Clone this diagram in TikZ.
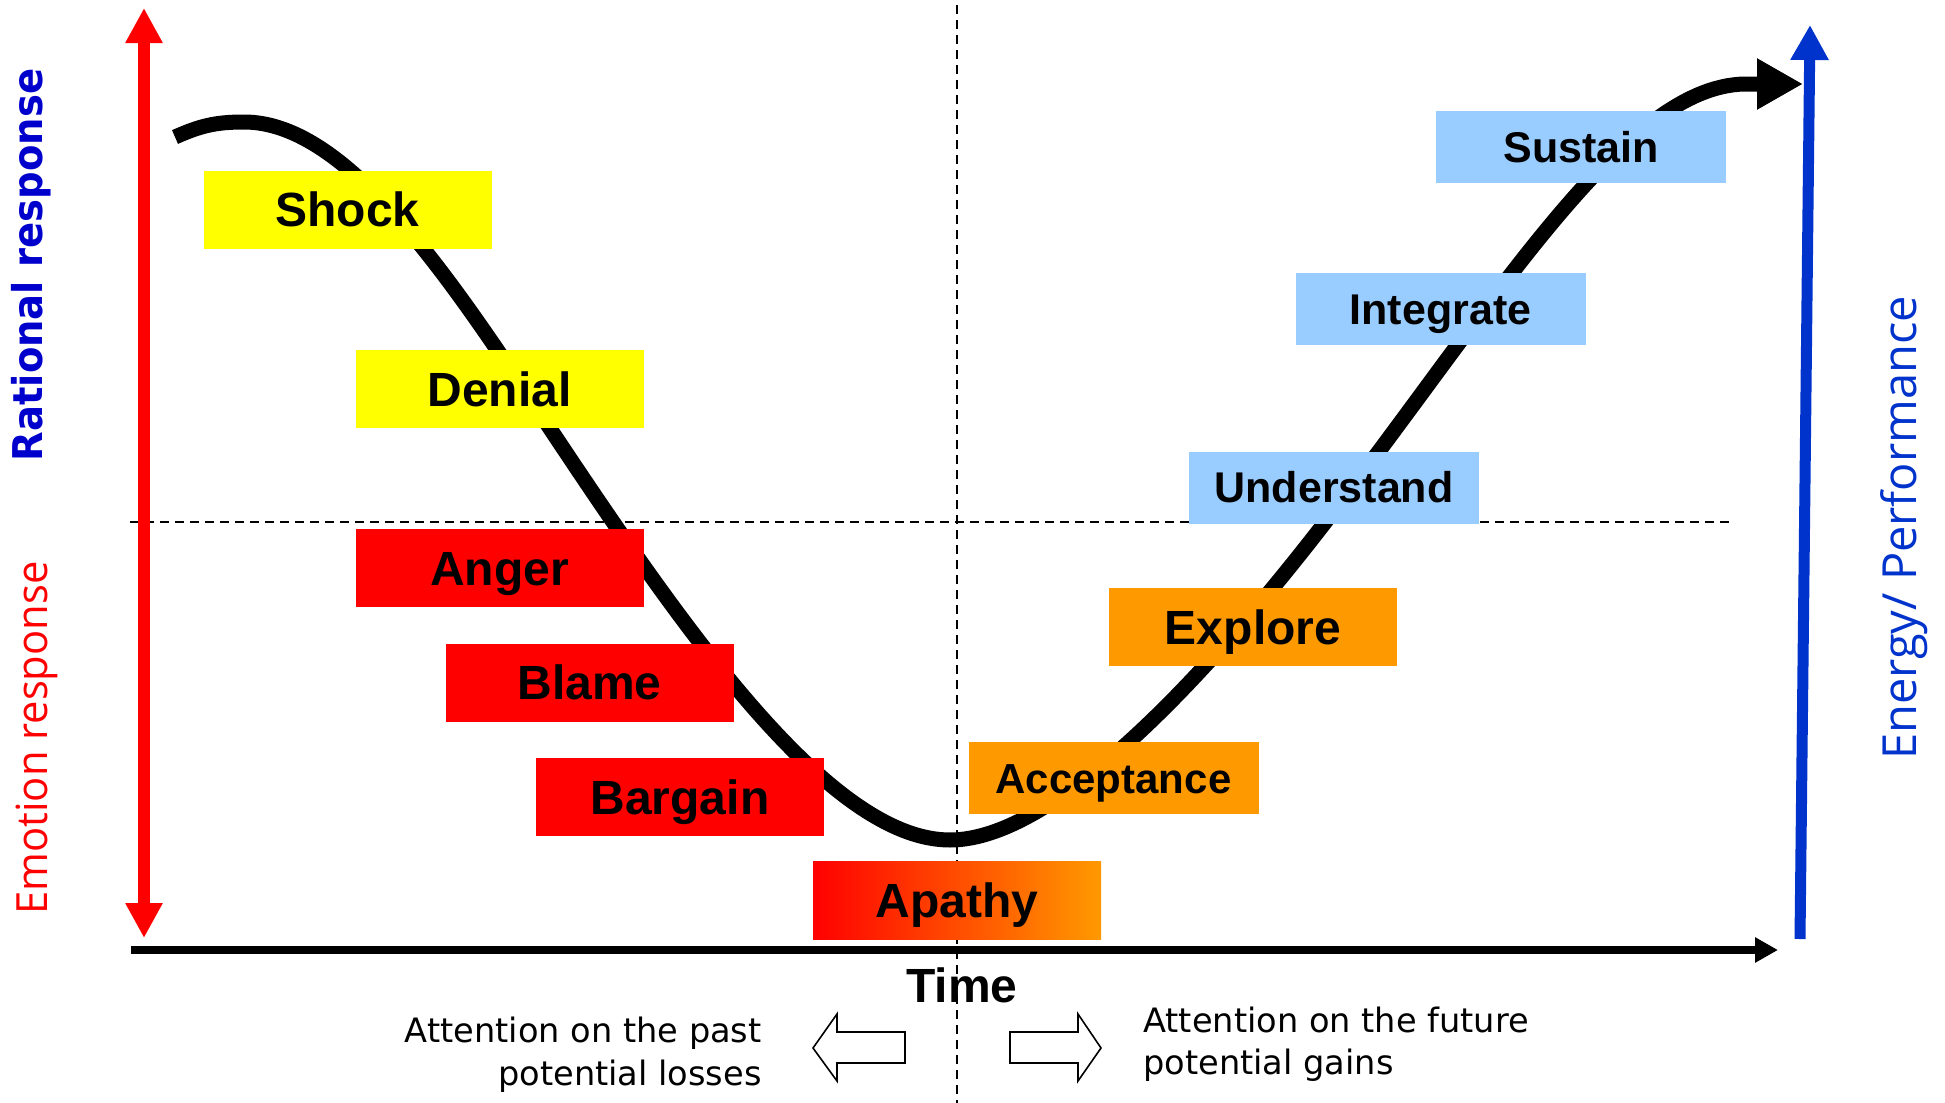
\documentclass[tikz,border=0pt]{standalone}
\usepackage{fontspec}
\usepackage{graphicx}
\usetikzlibrary{arrows.meta}
\newfontfamily\libsans{Liberation Sans}
\newfontfamily\dejavu{DejaVu Sans}
\newfontfamily\opensans{Open Sans}
\definecolor{cyellow}{HTML}{FFFF00}
\definecolor{cred}{HTML}{FF0000}
\definecolor{corange}{HTML}{FF9900}
\definecolor{cblue}{HTML}{99CCFF}
\definecolor{ratblue}{HTML}{0000CC}
\definecolor{energyblue}{HTML}{0033CC}
\begin{document}
\begin{tikzpicture}[x=0.5pt,y=-0.5pt,
  stagebig/.style={inner sep=0pt, minimum width=144pt, minimum height=39pt,
    font=\libsans\bfseries\fontsize{24}{28}\selectfont, text height=17.2pt, text depth=0pt},
  stagesmall/.style={inner sep=0pt, minimum width=145pt, minimum height=36pt,
    font=\libsans\bfseries\fontsize{21.5}{25}\selectfont, text height=15.4pt, text depth=0pt},
  dashline/.style={line width=1pt, dash pattern=on 4.5pt off 3pt},
  bottomtext/.style={font=\dejavu\fontsize{16.8}{20}\selectfont, inner sep=0pt},
  blockarrow/.style={draw=black, line width=0.8pt, fill=white, line join=miter},
  curveline/.style={line width=7.5pt}
]
\useasboundingbox (0,0) rectangle (1945,1103);
\fill[white] (0,0) rectangle (1945,1103);

% coordinates
\coordinate (hdL) at (130,522);
\coordinate (hdR) at (1734,522);
\coordinate (vdT) at (957,5);
\coordinate (vdB) at (957,1103);
\coordinate (rtop) at (144,8);
\coordinate (rbot) at (144,938);
\coordinate (bbot) at (1800,939);
\coordinate (btop) at (1810,25);
\coordinate (tstart) at (131,950);
\coordinate (tend) at (1778,950);
\coordinate (cStart) at (175,137);
\coordinate (cHump) at (244,122);
\coordinate (cDown) at (555,436);
\coordinate (cMin) at (950,840);
\coordinate (cUp) at (1330,516);
\coordinate (cTop) at (1745,84);
\coordinate (cTip) at (1803,84);

% horizontal dashed line
\draw[dashline] (hdL) -- (hdR);

% change curve
\draw[curveline, -{Triangle[length=23pt,width=24pt]}]
  (cStart) .. controls (200,126) and (215,122) .. (cHump)
  .. controls (350,122) and (455,286) .. (cDown)
  .. controls (685,631) and (830,840) .. (cMin)
  .. controls (1060,840) and (1220,659) .. (cUp)
  .. controls (1500,295) and (1625,86) .. (cTop)
  -- (cTip);

% Time label
\node[anchor=base, inner sep=0pt, font=\libsans\bfseries\fontsize{24}{28}\selectfont] (time) at (962,1002) {Time};

% vertical dashed line
\draw[dashline] (vdT) -- (vdB);

% stage boxes
\node[stagebig, fill=cyellow] (shock) at (347.5,209.5) {Shock};
\node[stagebig, fill=cyellow] (denial) at (499.5,389) {Denial};
\node[stagebig, fill=cred] (anger) at (499.5,568) {Anger};
\node[stagebig, fill=cred] (blame) at (589.5,682.5) {Blame};
\node[stagebig, fill=cred] (bargain) at (680,797) {Bargain};
\node[stagebig, left color=cred, right color=corange] (apathy) at (957,900) {Apathy};
\node[stagesmall, fill=corange, font=\libsans\bfseries\fontsize{21}{25}\selectfont] (acceptance) at (1113.5,778) {Acceptance};
\node[stagebig, fill=corange] (explore) at (1253,627) {Explore};
\node[stagesmall, fill=cblue] (understand) at (1334,487.5) {Understand};
\node[stagesmall, fill=cblue] (integrate) at (1440.5,309) {Integrate};
\node[stagesmall, fill=cblue] (sustain) at (1581,147) {Sustain};

% axes
\draw[cred, line width=6pt, {Triangle[length=17.5pt,width=17.5pt]}-{Triangle[length=17.5pt,width=17.5pt]}] (rtop) -- (rbot);
\draw[energyblue, line width=5.5pt, -{Triangle[length=17.5pt,width=18pt]}] (bbot) -- (btop);
\draw[black, line width=4pt, -{Triangle[length=11.5pt,width=12pt]}] (tstart) -- (tend);

% axis labels
\node[rotate=90, anchor=base, inner sep=0pt, text=ratblue,
  font=\dejavu\bfseries\fontsize{20.5}{24}\selectfont] (rational) at (42,265) {\scalebox{0.94}[1]{Rational response}};
\node[rotate=90, anchor=base, inner sep=0pt, text=cred,
  font=\opensans\fontsize{21.5}{24}\selectfont] (emotion) at (47,738) {\scalebox{0.97}[1]{Emotion response}};
\node[rotate=90, anchor=base, inner sep=0pt, text=energyblue,
  font=\opensans\fontsize{23.5}{26}\selectfont] (energy) at (1916,528) {Energy/ Performance};

% bottom texts
\node[bottomtext, anchor=base east] (pastA) at (762,1042) {Attention on the past};
\node[bottomtext, anchor=base east] (pastB) at (762,1085) {potential losses};
\node[bottomtext, anchor=base west] (futA) at (1143,1032) {Attention on the future};
\node[bottomtext, anchor=base west] (futB) at (1143,1074) {potential gains};

% block arrows
\draw[blockarrow] (905,1032) -- (837,1032) -- (837,1014) -- (813,1048) -- (837,1081) -- (837,1063) -- (905,1063) -- cycle;
\draw[blockarrow] (1010,1032) -- (1078,1032) -- (1078,1014) -- (1101,1048) -- (1078,1081) -- (1078,1063) -- (1010,1063) -- cycle;
\end{tikzpicture}
\end{document}
